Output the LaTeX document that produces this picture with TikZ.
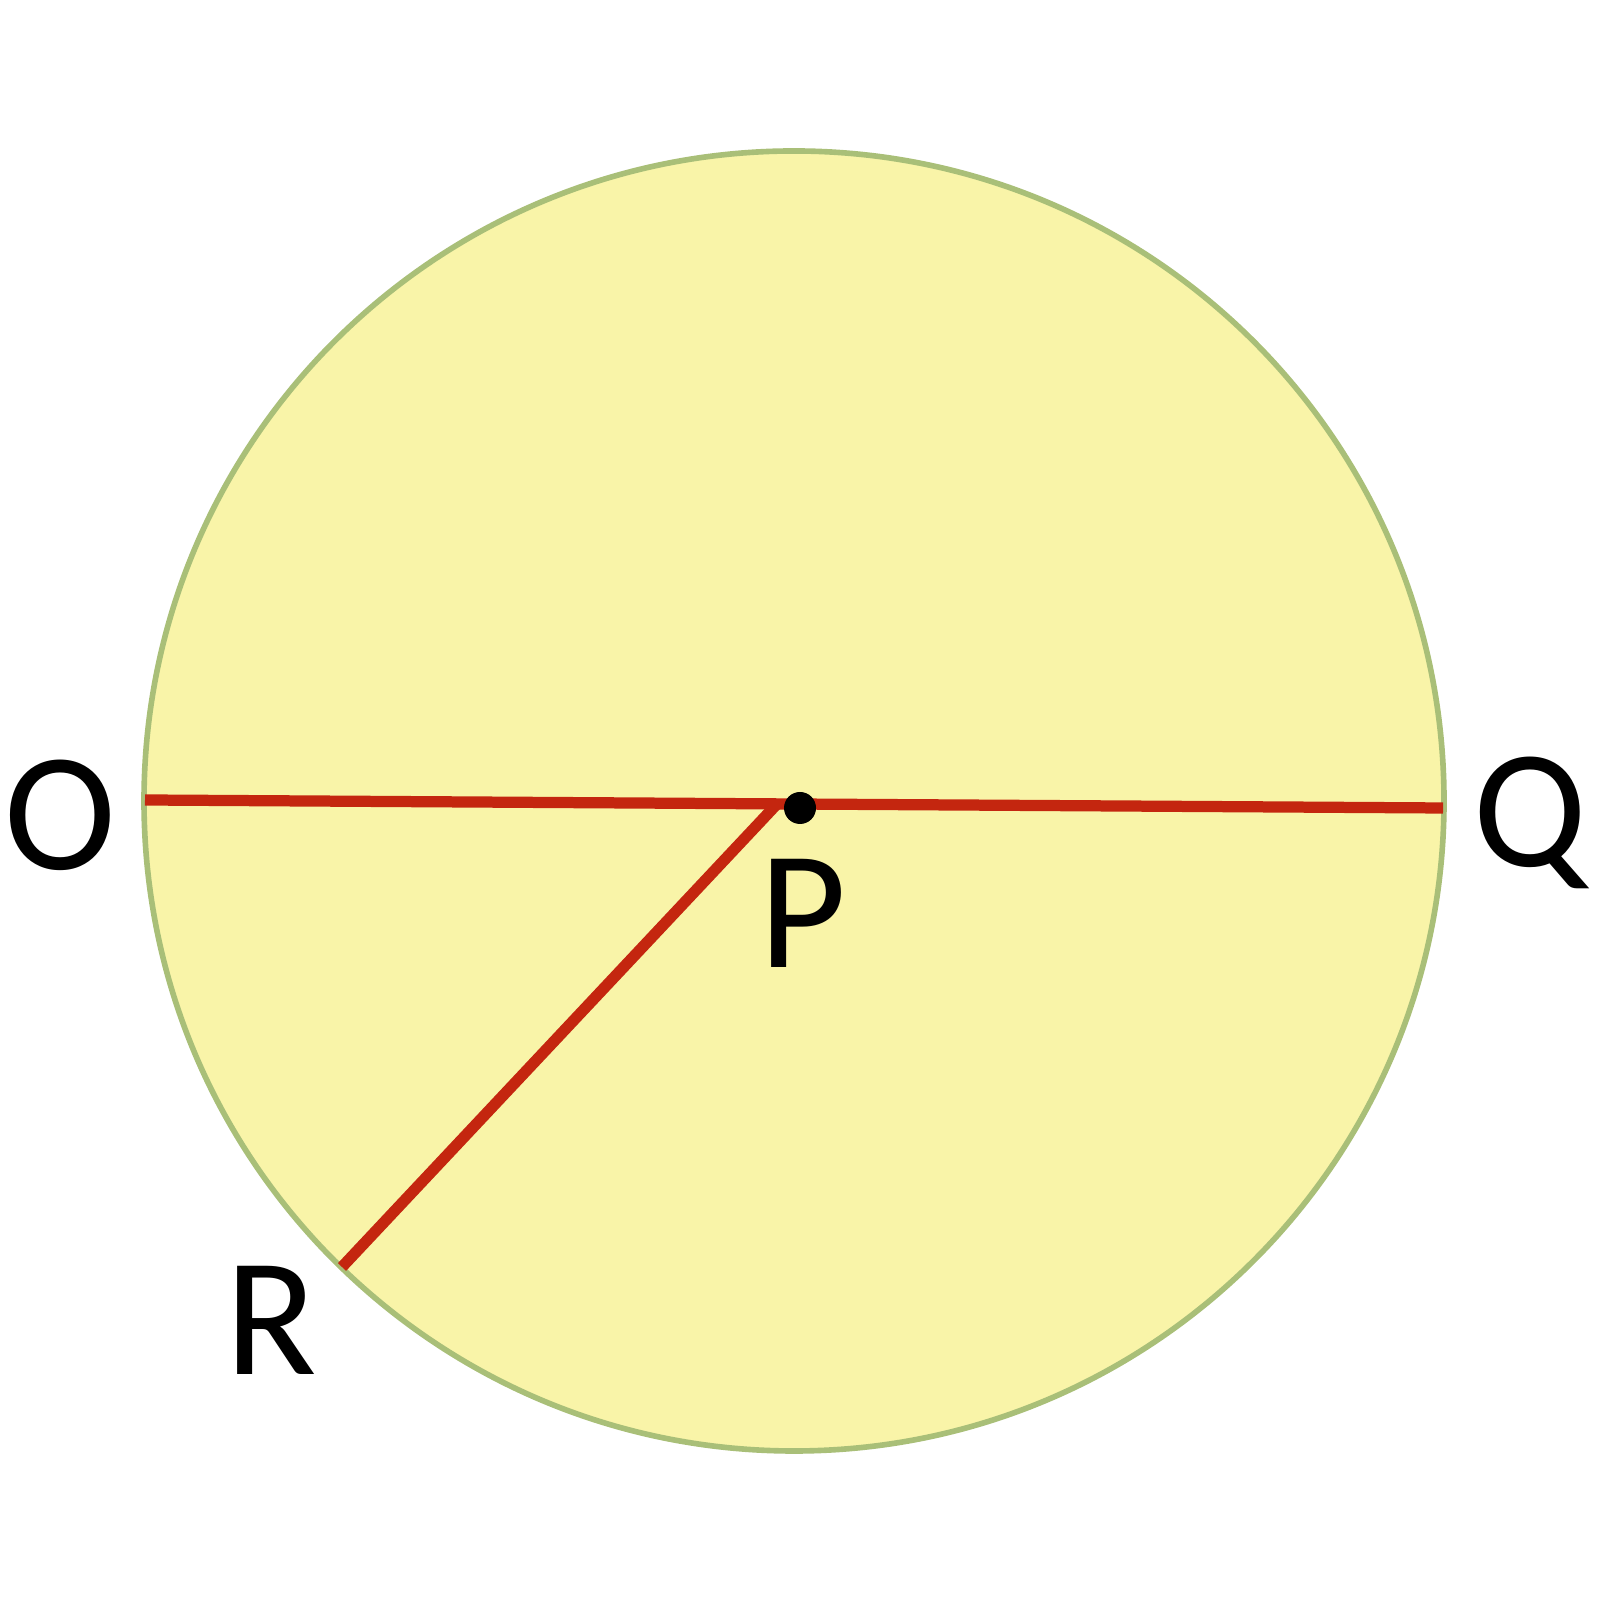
\documentclass[tikz,border=0pt]{standalone}
\usepackage{fontspec}
\setmainfont{Carlito}
\definecolor{discfill}{HTML}{F9F4A8}
\definecolor{discedge}{HTML}{A9BF78}
\definecolor{radline}{HTML}{C4260F}
\begin{document}
\begin{tikzpicture}[
	every node/.style={font=\fontsize{48}{56}\selectfont, anchor=base},
	seg/.style={draw=radline, line width=3.2pt}
	]
	\useasboundingbox (0,0) rectangle (16,16);
	\fill[discfill, draw=discedge, line width=1.6pt] (7.94, 7.99) circle (6.5);
	\coordinate (o) at (1.45, 8.00);
	\coordinate (q) at (14.43, 7.92);
	\coordinate (p) at (8.00, 7.92);
	\coordinate (pe) at (7.77, 7.96);
	\coordinate (r) at (3.42, 3.33);
	\path[seg]  (o) -- (q);
	\path[seg]  (r) -- (pe);
	\fill (p) circle (0.16);
	\node  (lo) at (0.60, 7.30)  {O};
	\node  (lp) at (8.03, 6.32)  {P};
	\node  (lq) at (15.30, 7.33)  {Q};
	\node  (lr) at (2.71, 2.25)  {R};
\end{tikzpicture}
\end{document}
